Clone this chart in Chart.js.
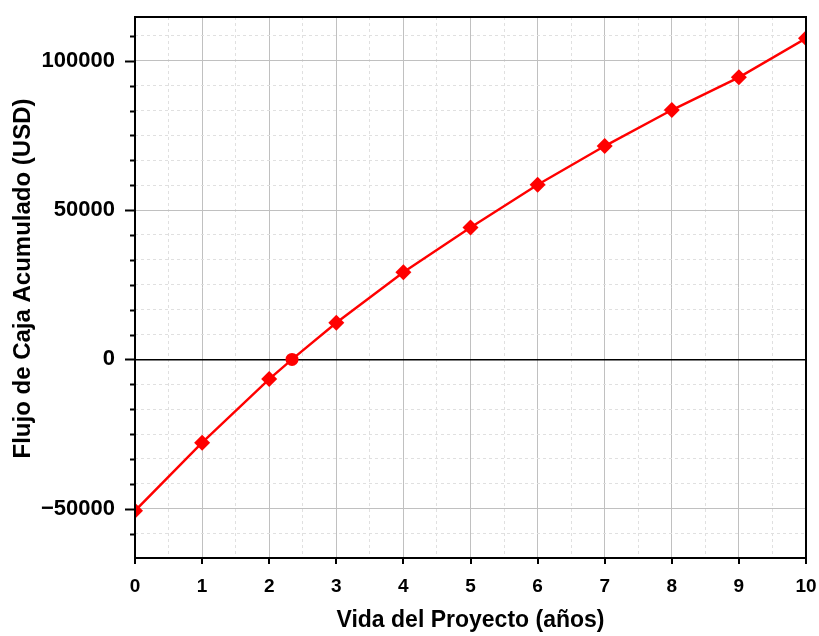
<!DOCTYPE html>
<html>
<head>
<meta charset="utf-8">
<script src="https://cdn.jsdelivr.net/npm/chart.js@4/dist/chart.umd.min.js"></script>
<style>
  html, body { margin: 0; padding: 0; background: #ffffff; }
  #wrap { width: 819px; height: 636px; position: relative; }
</style>
</head>
<body>
<div id="wrap"><canvas id="c"></canvas></div>
<script>
// Cumulative cash flow over the project life (USD)
const years = [0, 1, 2, 2.34, 3, 4, 5, 6, 7, 8, 9, 10];
const flujoAcumulado = [-50700, -27900, -6600, 0, 12250, 29200, 44200, 58470, 71430, 83490, 94440, 107500];

// Axis ticks and titles
const xMajorTicks = [0, 1, 2, 3, 4, 5, 6, 7, 8, 9, 10];
const yMajorTicks = [-50000, 0, 50000, 100000];
const xMinorDivisions = 2;
const yMinorDivisions = 6;
const xRange = [0, 10];
const yRange = [-66500, 114650];
const xTitle = 'Vida del Proyecto (años)';
const yTitle = 'Flujo de Caja Acumulado (USD)';

// Major + minor tick values (minor ones subdivide each major step)
function withMinor(majors, divisions, lo, hi) {
  const step = majors[1] - majors[0];
  const out = [];
  const first = majors[0] - step;
  const last = majors[majors.length - 1] + step;
  for (let m = first; m <= last; m += step) {
    for (let j = 0; j < divisions; j++) {
      const v = m + j * step / divisions;
      if (v >= lo - 1e-9 && v <= hi + 1e-9) out.push(v);
    }
  }
  return out;
}
const xTickValues = withMinor(xMajorTicks, xMinorDivisions, xRange[0], xRange[1]);
const yTickValues = withMinor(yMajorTicks, yMinorDivisions, yRange[0], yRange[1]);

const isMajor = (list, v) => list.some(m => Math.abs(m - v) < 1e-6);

function gridColor(list, ctx) {
  const v = ctx.tick ? ctx.tick.value : NaN;
  if (list === yMajorTicks && Math.abs(v) < 1e-6) return '#000000';
  return isMajor(list, v) ? '#c0c0c0' : '#e0e0e0';
}
function gridWidth(list, ctx) {
  const v = ctx.tick ? ctx.tick.value : NaN;
  if (list === yMajorTicks && Math.abs(v) < 1e-6) return 1.6;
  return 1;
}
function gridDash(list, ctx) {
  const v = ctx.tick ? ctx.tick.value : NaN;
  return isMajor(list, v) ? [] : [3, 3];
}
const fmt = v => (v < 0 ? '\u2212' + Math.abs(Math.round(v)) : String(Math.round(v)));
const font = 'Liberation Sans, Arial, Helvetica, sans-serif';

// Frame around the plot area, outward tick marks and the vertical axis title
const frame = {
  id: 'frame',
  afterDatasetsDraw(chart) {
    const { ctx, chartArea: a, scales } = chart;
    ctx.save();
    ctx.strokeStyle = '#000';
    ctx.lineWidth = 2;
    scales.y.ticks.forEach(t => {
      const py = Math.round(scales.y.getPixelForValue(t.value)) + 0.5;
      const len = isMajor(yMajorTicks, t.value) ? 10 : 5;
      ctx.beginPath();
      ctx.moveTo(a.left - len, py);
      ctx.lineTo(a.left, py);
      ctx.stroke();
    });
    scales.x.ticks.forEach(t => {
      if (!isMajor(xMajorTicks, t.value)) return;
      const px = Math.round(scales.x.getPixelForValue(t.value));
      ctx.beginPath();
      ctx.moveTo(px, a.bottom);
      ctx.lineTo(px, a.bottom + 6);
      ctx.stroke();
    });
    ctx.strokeRect(a.left, a.top, a.right - a.left, a.bottom - a.top);

    ctx.translate(23, (a.top + a.bottom) / 2 - 9);
    ctx.rotate(-Math.PI / 2);
    ctx.fillStyle = '#000';
    ctx.font = 'bold 24px ' + font;
    ctx.textAlign = 'center';
    ctx.textBaseline = 'middle';
    ctx.fillText(yTitle, 0, 0);
    ctx.restore();
  }
};

new Chart(document.getElementById('c'), {
  type: 'scatter',
  data: {
    datasets: [{
      label: yTitle,
      data: years.map((x, i) => ({ x, y: flujoAcumulado[i] })),
      showLine: true,
      borderColor: '#ff0000',
      backgroundColor: '#ff0000',
      borderWidth: 2.4,
      pointStyle: ctx => (flujoAcumulado[ctx.dataIndex] === 0 ? 'circle' : 'rectRot'),
      pointRadius: ctx => (flujoAcumulado[ctx.dataIndex] === 0 ? 6.5 : 8),
      pointBorderWidth: 0,
      pointHoverRadius: 8,
      clip: 0
    }]
  },
  options: {
    responsive: true,
    maintainAspectRatio: false,
    animation: false,
    layout: { padding: { top: 17, right: 13, left: 0, bottom: 0 } },
    plugins: { legend: { display: false }, tooltip: { enabled: false } },
    scales: {
      x: {
        type: 'linear',
        min: xRange[0],
        max: xRange[1],
        afterBuildTicks: s => { s.ticks = xTickValues.map(v => ({ value: v })); },
        afterFit: s => { s.height = 78; s.paddingLeft = 0; s.paddingRight = 0; },
        grid: {
          color: c => gridColor(xMajorTicks, c),
          lineWidth: c => gridWidth(xMajorTicks, c),
          drawTicks: false
        },
        border: { display: false, dash: c => gridDash(xMajorTicks, c) },
        ticks: {
          autoSkip: false,
          maxRotation: 0,
          padding: 17,
          color: '#000',
          font: { family: font, size: 19, weight: 'bold' },
          callback: v => (isMajor(xMajorTicks, v) ? String(v) : '')
        },
        title: {
          display: true,
          text: xTitle,
          color: '#000',
          font: { family: font, size: 23, weight: 'bold' },
          padding: { top: 0, bottom: 2 }
        }
      },
      y: {
        type: 'linear',
        min: yRange[0],
        max: yRange[1],
        afterBuildTicks: s => { s.ticks = yTickValues.map(v => ({ value: v })); },
        afterFit: s => { s.width = 135; s.paddingTop = 0; s.paddingBottom = 0; },
        grid: {
          color: c => gridColor(yMajorTicks, c),
          lineWidth: c => gridWidth(yMajorTicks, c),
          drawTicks: false
        },
        border: { display: false, dash: c => gridDash(yMajorTicks, c) },
        ticks: {
          autoSkip: false,
          padding: 20,
          color: '#000',
          font: { family: font, size: 22, weight: 'bold' },
          callback: v => (isMajor(yMajorTicks, v) ? fmt(v) : '')
        },
        title: { display: false }
      }
    }
  },
  plugins: [frame]
});
</script>
</body>
</html>
